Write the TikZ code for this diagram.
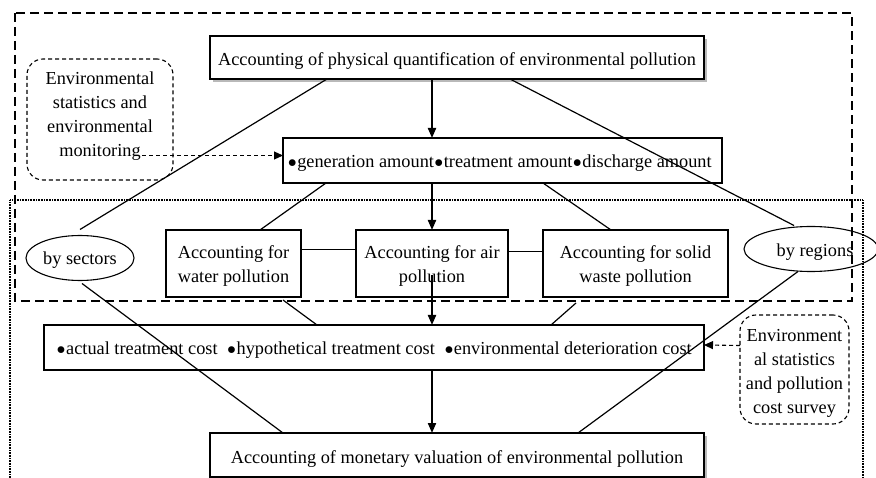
\documentclass[tikz,border=0pt]{standalone}
\usepackage{fontspec}
\setmainfont{Liberation Serif}
\usetikzlibrary{arrows.meta,shapes.geometric,shadows}
\newcommand{\bdot}{\raisebox{-4.4pt}{\scalebox{1.55}{\textbullet}}}
\begin{document}
\begin{tikzpicture}[x=1pt,y=-1pt,
  every node/.style={font=\fontsize{18.3}{24}\selectfont, inner sep=0pt, outer sep=0pt},
  txt/.style={align=center},
  rect/.style={draw, line width=1.5pt},
  shadowed/.style={fill=white, drop shadow={shadow xshift=3pt, shadow yshift=-3pt, fill=gray!55, opacity=1}},
  oval/.style={draw, ellipse, line width=1.1pt},
  softbox/.style={draw, dashed, dash pattern=on 4pt off 3pt, line width=1.1pt, rounded corners=16pt},
  link/.style={line width=1.2pt},
  mainarrow/.style={line width=2pt, -{Triangle[length=10pt,width=8pt]}},
  feedarrow/.style={line width=1.1pt, dash pattern=on 4pt off 3pt, -{Triangle[length=9pt,width=8pt]}},
  bigdash/.style={line width=1.6pt, dash pattern=on 9pt off 5pt},
  dotframe/.style={line width=1.6pt, dash pattern=on 0.8pt off 0.8pt}
]
\useasboundingbox (0,0) rectangle (876,478);

% frames
\draw[dotframe] (10,478) -- (10,200) -- (863,200) -- (863,478);
\draw[bigdash] (15,13) rectangle (852,301);

% shapes
\node[rect, shadowed, minimum width=494pt, minimum height=43pt] (top) at (457,57.5) {};
\node[rect, minimum width=439pt, minimum height=45pt] (second) at (502.5,160.5) {};
\node[softbox, minimum width=146pt, minimum height=121pt] (env1) at (100,119.5) {};
\node[oval, minimum width=108pt, minimum height=45pt] (sectors) at (80,258) {};
\node[rect, minimum width=135pt, minimum height=67pt] (water) at (233.5,263.5) {};
\node[rect, minimum width=152pt, minimum height=67pt] (air) at (432,263.5) {};
\node[rect, minimum width=185pt, minimum height=67pt] (solid) at (635.5,263.5) {};
\node[oval, minimum width=134pt, minimum height=45pt] (regions) at (811,249) {};
\node[rect, minimum width=660pt, minimum height=45pt] (cost) at (374,347.5) {};
\node[softbox, minimum width=109pt, minimum height=109pt] (env2) at (794.5,369.5) {};
\node[rect, shadowed, minimum width=494pt, minimum height=44pt] (money) at (457,455) {};

% texts
\node[txt] (topT) at ([yshift=-4pt]top.center)
  {Accounting of physical quantification of environmental pollution};
\node[txt] (secondT) at ([xshift=-3pt,yshift=-3pt]second.center)
  {\bdot generation amount\bdot treatment amount\bdot discharge amount};
\node[txt] (env1T) at ([yshift=3pt]env1.center)
  {Environmental\\statistics and\\environmental\\monitoring};
\node[txt] (sectorsT) at ([yshift=-2pt]sectors.center) {by sectors};
\node[txt] (waterT) at ([yshift=-2.5pt]water.center) {Accounting for\\water pollution};
\node[txt] (airT) at ([yshift=-2.5pt]air.center) {Accounting for air\\pollution};
\node[txt] (solidT) at ([yshift=-2.5pt]solid.center) {Accounting for solid\\waste pollution};
\node[txt] (regionsT) at ([xshift=4pt,yshift=-3pt]regions.center) {by regions};
\node[txt] (costT) at ([yshift=-3pt]cost.center)
  {\bdot actual treatment cost\hspace{0.5em}\bdot hypothetical treatment cost\hspace{0.5em}\bdot environmental deterioration cost};
\node[txt] (env2T) at ([yshift=-4pt]env2.center)
  {Environment\\al statistics\\and pollution\\cost survey};
\node[txt] (moneyT) at ([yshift=-4pt]money.center)
  {Accounting of monetary valuation of environmental pollution};

% main arrows
\draw[mainarrow] (top.south -| air.center) -- (second.north -| air.center);
\draw[mainarrow] (second.south -| air.center) -- (air.north);
\draw[mainarrow] ([yshift=-12pt]air.center) -- (cost.north -| air.center);
\draw[mainarrow] (cost.south -| air.center) -- (money.north -| air.center);

% feed arrows
\draw[feedarrow] ([xshift=42pt,yshift=-36pt]env1.center) -- ([yshift=5pt]second.west);
\draw[feedarrow] ([yshift=24pt]env2.west) -- ([yshift=2.5pt]cost.east);

% links
\draw[link] ([xshift=117pt]top.south west) -- ([yshift=6pt]sectors.north);
\draw[link] ([xshift=53pt]top.south) -- ([xshift=-17pt,yshift=1pt]regions.north);
\draw[link] ([xshift=43pt]second.south west) -- ([xshift=26.5pt]water.north);
\draw[link] ([xshift=260pt]second.south west) -- ([xshift=68pt]solid.north west);
\draw[link] ([yshift=14pt]water.east) -- ([yshift=14pt]air.west);
\draw[link] ([yshift=12pt]air.east) -- ([yshift=12pt]solid.west);
\draw[link] ([xshift=-18pt,yshift=-3pt]water.south east) -- ([xshift=273pt]cost.north west);
\draw[link] ([xshift=33pt,yshift=-6pt]solid.south west) -- ([xshift=-153pt]cost.north east);
\draw[link] ([xshift=2pt,yshift=-3pt]sectors.south) -- ([xshift=73pt]money.north west);
\draw[link] ([xshift=-13pt]regions.south) -- ([xshift=368pt]money.north west);
\end{tikzpicture}
\end{document}
